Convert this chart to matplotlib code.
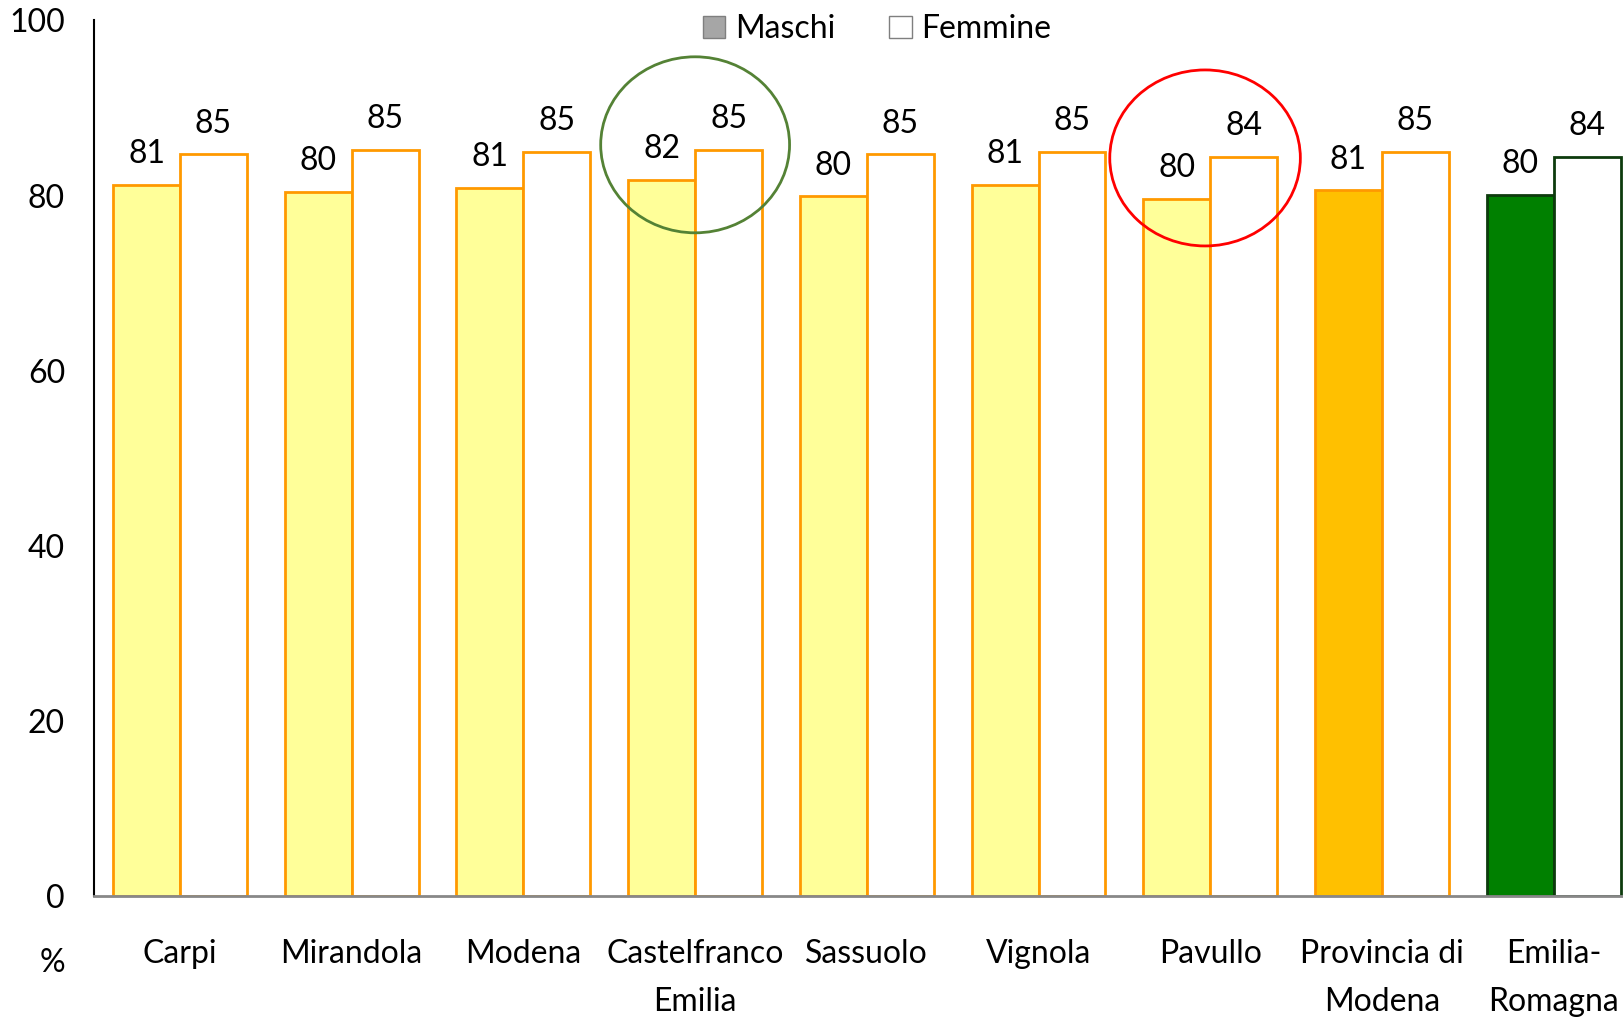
import matplotlib.pyplot as plt
from matplotlib.patches import Ellipse, Patch
import numpy as np

plt.rcParams['font.family'] = ['Lato', 'DejaVu Sans']

# data
categories = ['Carpi', 'Mirandola', 'Modena', 'Castelfranco\nEmilia', 'Sassuolo',
              'Vignola', 'Pavullo', 'Provincia di\nModena', 'Emilia-\nRomagna']
maschi = [81.2, 80.4, 80.9, 81.8, 79.9, 81.2, 79.6, 80.6, 80.1]
femmine = [84.7, 85.2, 85.0, 85.2, 84.7, 85.0, 84.4, 85.0, 84.4]
maschi_labels = ['81', '80', '81', '82', '80', '81', '80', '81', '80']
femmine_labels = ['85', '85', '85', '85', '85', '85', '84', '85', '84']

# colours per category (fill of maschi, edge of both bars)
m_fill = ['#ffff99'] * 7 + ['#ffc000', '#008000']
edges = ['#ff9900'] * 7 + ['#ff9900', '#0d3b0d']

fs = 23

fig = plt.figure(figsize=(16.24, 10.23), dpi=100)
ax = fig.add_axes([0.058, 0.124, 0.942, 0.856])

x = np.arange(len(categories))
w = 0.39
ax.bar(x - w / 2, maschi, w, color=m_fill, edgecolor=edges, linewidth=2)
ax.bar(x + w / 2, femmine, w, color='white', edgecolor=edges, linewidth=2)

for i in range(len(categories)):
    ax.text(x[i] - w / 2, maschi[i] + 1.8, maschi_labels[i], ha='center', va='bottom', fontsize=fs)
    ax.text(x[i] + w / 2, femmine[i] + 1.8, femmine_labels[i], ha='center', va='bottom', fontsize=fs)

# highlight circles
ax.add_patch(Ellipse((3, 85.8), 1.1, 20.1, fill=False, edgecolor='#548235', linewidth=2, clip_on=False))
ax.add_patch(Ellipse((5.97, 84.3), 1.11, 20.1, fill=False, edgecolor='#ff0000', linewidth=2, clip_on=False))

ax.set_xlim(-0.5, 8.41)
ax.set_ylim(0, 100)
ax.set_yticks(range(0, 101, 20))
ax.set_xticks(x)
ax.set_xticklabels(categories, fontsize=fs, linespacing=1.75)
ax.tick_params(axis='both', length=0, labelsize=fs)
ax.tick_params(axis='y', pad=21)
ax.tick_params(axis='x', pad=31)

for s in ['top', 'right']:
    ax.spines[s].set_visible(False)
ax.spines['left'].set_color('black')
ax.spines['left'].set_linewidth(1.5)
ax.spines['bottom'].set_color('#888888')
ax.spines['bottom'].set_linewidth(2)

fig.text(0.032, 0.059, '%', fontsize=fs, ha='center', va='center')

handles = [Patch(facecolor='#a6a6a6', edgecolor='#7f7f7f', label='Maschi'),
           Patch(facecolor='white', edgecolor='#7f7f7f', label='Femmine')]
fig.legend(handles=handles, loc='upper center', bbox_to_anchor=(0.54, 1.014), ncol=2,
           frameon=False, fontsize=fs, handlelength=0.7, handleheight=0.7,
           handletextpad=0.3, columnspacing=1.7)

fig.savefig('out.png', dpi=100)
